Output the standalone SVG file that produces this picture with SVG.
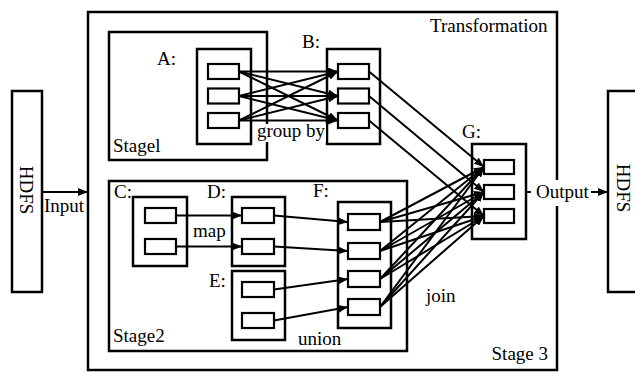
<svg xmlns="http://www.w3.org/2000/svg" width="635" height="372" viewBox="0 0 635 372">
<style>
.box{fill:none;stroke:#000;stroke-width:2.5}
.cell{fill:#fff;stroke:#000;stroke-width:2.2}
.t{font-family:"Liberation Serif","Times New Roman",serif;font-size:19px;fill:#000}
.c line{stroke:#000;stroke-width:2}
.a{marker-end:url(#ah)}
</style>
<defs>
<marker id="ah" markerUnits="userSpaceOnUse" markerWidth="10" markerHeight="8" refX="10" refY="4" orient="auto">
<path d="M0,0 L10,4 L0,8 z" fill="#000"/>
</marker>
</defs>
<rect width="635" height="372" fill="#fff"/>

<g id="hdfs-in">
<rect class="box" x="12" y="91" width="30" height="201"/>
<text class="t" text-anchor="middle" transform="translate(20,190) rotate(90)">HDFS</text>
</g>
<g id="hdfs-out">
<rect class="box" x="608" y="91" width="40" height="201"/>
<text class="t" text-anchor="middle" transform="translate(617,188) rotate(90)">HDFS</text>
</g>

<g id="transformation">
<rect class="box" x="88" y="12" width="469" height="358"/>
<text class="t" x="430" y="32">Transformation</text>
<text class="t" x="548" y="360" text-anchor="end">Stage 3</text>
</g>

<g id="stage1">
<rect class="box" x="109" y="32" width="158" height="128"/>
<text class="t" x="113" y="152">Stagel</text>
</g>
<g id="stage2">
<rect class="box" x="109" y="181" width="298" height="170"/>
<text class="t" x="113" y="342">Stage2</text>
</g>

<g id="connectors" class="c">
<!-- A to B -->
<line class="a" x1="239" y1="71.5" x2="338" y2="71.5"/>
<line class="a" x1="239" y1="71.5" x2="338" y2="96"/>
<line class="a" x1="239" y1="71.5" x2="338" y2="120.5"/>
<line class="a" x1="239" y1="96" x2="338" y2="71.5"/>
<line class="a" x1="239" y1="96" x2="338" y2="96"/>
<line class="a" x1="239" y1="96" x2="338" y2="120.5"/>
<line class="a" x1="239" y1="120.5" x2="338" y2="71.5"/>
<line class="a" x1="239" y1="120.5" x2="338" y2="96"/>
<line class="a" x1="239" y1="120.5" x2="338" y2="120.5"/>
<!-- B to G -->
<line class="a" x1="369" y1="71.5" x2="484" y2="167"/>
<line class="a" x1="369" y1="96" x2="484" y2="192"/>
<line class="a" x1="369" y1="120.5" x2="484" y2="216"/>
<!-- C to D -->
<line class="a" x1="176" y1="215.5" x2="242" y2="215.5"/>
<line class="a" x1="176" y1="246.5" x2="242" y2="246.5"/>
<!-- D,E to F -->
<line class="a" x1="274" y1="215.5" x2="348" y2="222"/>
<line class="a" x1="274" y1="246.5" x2="348" y2="251"/>
<line class="a" x1="274" y1="289.5" x2="348" y2="279"/>
<line class="a" x1="274" y1="320.5" x2="348" y2="307"/>
<!-- F to G -->
<line class="a" x1="380" y1="222" x2="484" y2="167"/>
<line class="a" x1="380" y1="222" x2="484" y2="192"/>
<line class="a" x1="380" y1="222" x2="484" y2="216"/>
<line class="a" x1="380" y1="251" x2="484" y2="167"/>
<line class="a" x1="380" y1="251" x2="484" y2="192"/>
<line class="a" x1="380" y1="251" x2="484" y2="216"/>
<line class="a" x1="380" y1="279" x2="484" y2="167"/>
<line class="a" x1="380" y1="279" x2="484" y2="192"/>
<line class="a" x1="380" y1="279" x2="484" y2="216"/>
<line class="a" x1="380" y1="307" x2="484" y2="167"/>
<line class="a" x1="380" y1="307" x2="484" y2="192"/>
<line class="a" x1="380" y1="307" x2="484" y2="216"/>
<!-- input / output -->
<line class="a" x1="42" y1="192" x2="88" y2="192"/>
<line x1="526" y1="192" x2="531" y2="192"/>
<line class="a" x1="591" y1="192" x2="608" y2="192"/>
</g>

<g id="A">
<rect class="box" x="197" y="49" width="54" height="95"/>
<rect class="cell" x="208" y="64" width="31" height="15"/>
<rect class="cell" x="208" y="88.5" width="31" height="15"/>
<rect class="cell" x="208" y="113" width="31" height="15"/>
<text class="t" x="157" y="65">A:</text>
</g>
<g id="B">
<rect class="box" x="327" y="49" width="53" height="95"/>
<rect class="cell" x="338" y="64" width="31" height="15"/>
<rect class="cell" x="338" y="88.5" width="31" height="15"/>
<rect class="cell" x="338" y="113" width="31" height="15"/>
<text class="t" x="302" y="48">B:</text>
</g>
<g id="groupby-label">
<rect x="256" y="124" width="70" height="18" fill="#fff"/>
<text class="t" x="257" y="137">group by</text>
</g>
<g id="C">
<rect class="box" x="133" y="197" width="54" height="69"/>
<rect class="cell" x="145" y="208" width="31" height="15"/>
<rect class="cell" x="145" y="239" width="31" height="15"/>
<text class="t" x="114" y="198">C:</text>
</g>
<text class="t" x="193" y="237">map</text>
<g id="D">
<rect class="box" x="232" y="197" width="53" height="69"/>
<rect class="cell" x="242" y="208" width="32" height="15"/>
<rect class="cell" x="242" y="239" width="32" height="15"/>
<text class="t" x="207" y="198">D:</text>
</g>
<g id="E">
<rect class="box" x="232" y="271" width="53" height="69"/>
<rect class="cell" x="242" y="282" width="32" height="15"/>
<rect class="cell" x="242" y="313" width="32" height="15"/>
<text class="t" x="209" y="287">E:</text>
</g>
<g id="F">
<rect class="box" x="338" y="202" width="53" height="126"/>
<rect class="cell" x="348" y="214" width="32" height="16"/>
<rect class="cell" x="348" y="243" width="32" height="16"/>
<rect class="cell" x="348" y="271" width="32" height="16"/>
<rect class="cell" x="348" y="299" width="32" height="16"/>
<text class="t" x="313" y="197">F:</text>
</g>
<text class="t" x="298" y="345">union</text>
<text class="t" x="426" y="302">join</text>
<g id="G">
<rect class="box" x="472" y="144" width="54" height="95"/>
<rect class="cell" x="484" y="160" width="30" height="14"/>
<rect class="cell" x="484" y="185" width="30" height="14"/>
<rect class="cell" x="484" y="209" width="30" height="14"/>
<text class="t" x="462" y="138">G:</text>
</g>
<g id="output-label">
<rect x="533" y="180" width="57" height="26" fill="#fff"/>
<text class="t" x="536" y="198">Output</text>
</g>
<g id="input-label">
<text class="t" x="44" y="212">Input</text>
</g>
</svg>
